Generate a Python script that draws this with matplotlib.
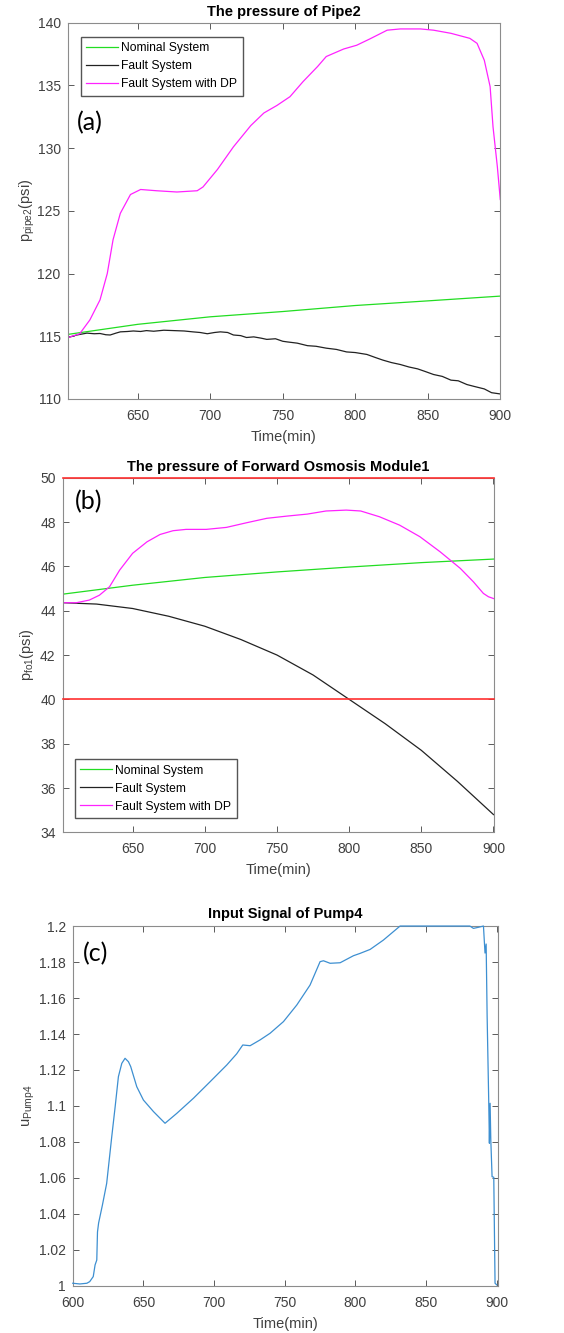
import matplotlib
matplotlib.use('Agg')
from matplotlib import pyplot as plt
from matplotlib.ticker import FuncFormatter

plt.rcParams['font.family'] = ['Liberation Sans', 'DejaVu Sans']
plt.rcParams['mathtext.fontset'] = 'custom'
plt.rcParams['mathtext.rm'] = 'Liberation Sans'

# ---- (a) pressure of Pipe2 ----
t_nom_a = [602, 650, 700, 750, 800, 850, 900]
p_nom_a = [115.15, 115.95, 116.55, 116.97, 117.45, 117.82, 118.2]

t_fault_a = [602, 608, 615, 620, 624, 628, 631, 635, 638, 643, 647, 652, 656, 661, 668, 675,
             682, 688, 693, 698, 703, 707, 712, 716, 721, 725, 730, 735, 739, 745, 750, 753,
             760, 767, 773, 780, 787, 794, 800, 808, 814, 819, 825, 831, 837, 843, 848, 854,
             860, 866, 871, 877, 882, 889, 894, 900]
p_fault_a = [114.9, 115.1, 115.25, 115.2, 115.22, 115.12, 115.1, 115.25, 115.35, 115.38, 115.42,
             115.38, 115.45, 115.4, 115.48, 115.45, 115.42, 115.35, 115.3, 115.2, 115.3, 115.35,
             115.3, 115.1, 115.05, 114.9, 114.95, 114.85, 114.75, 114.8, 114.6, 114.55, 114.45,
             114.25, 114.2, 114.05, 113.95, 113.75, 113.7, 113.55, 113.3, 113.1, 112.9, 112.75,
             112.55, 112.4, 112.2, 111.95, 111.8, 111.5, 111.45, 111.15, 111.0, 110.8, 110.5, 110.4]

t_dp_a = [602, 610, 617, 624, 629, 633, 638, 645, 652, 663, 677, 691, 695, 705, 716, 728, 737,
          746, 755, 764, 774, 780, 792, 801, 810, 822, 831, 845, 854, 866, 879, 884, 889, 893,
          895, 898, 900]
p_dp_a = [114.9, 115.2, 116.3, 117.9, 120.0, 122.7, 124.8, 126.3, 126.7, 126.6, 126.5, 126.6,
          126.9, 128.3, 130.1, 131.8, 132.8, 133.4, 134.1, 135.3, 136.5, 137.3, 137.9, 138.2,
          138.7, 139.4, 139.5, 139.5, 139.4, 139.15, 138.75, 138.35, 137.0, 134.9, 131.7, 128.5,
          125.9]

# ---- (b) pressure of Forward Osmosis Module1 ----
t_nom_b = [602, 650, 700, 750, 800, 850, 900]
p_nom_b = [44.75, 45.15, 45.5, 45.75, 45.97, 46.17, 46.33]

t_fault_b = [602, 625, 650, 675, 700, 725, 750, 775, 800, 825, 850, 875, 900]
p_fault_b = [44.36, 44.3, 44.1, 43.75, 43.3, 42.7, 42.0, 41.1, 40.0, 38.9, 37.7, 36.3, 34.8]

t_dp_b = [602, 611, 620, 627, 634, 641, 650, 660, 669, 678, 687, 701, 715, 729, 743, 757, 771,
          784, 798, 808, 821, 835, 849, 863, 877, 886, 893, 896.5, 900]
p_dp_b = [44.36, 44.36, 44.48, 44.7, 45.08, 45.83, 46.59, 47.11, 47.44, 47.61, 47.67, 47.67,
          47.76, 47.97, 48.17, 48.27, 48.36, 48.5, 48.54, 48.5, 48.24, 47.86, 47.34, 46.66,
          45.91, 45.31, 44.78, 44.63, 44.55]

limits_b = [40, 50]

# ---- (c) input signal of Pump4 ----
t_u = [600, 605, 610, 612, 614.5, 615.8, 617, 617.5, 618.3, 621, 624, 627.6, 630, 632.3, 634.7,
       637, 639.4, 641, 645.3, 650, 657.1, 665.3, 673.6, 685.4, 697.2, 709, 716, 720.3, 725.5,
       732.5, 739.6, 749.1, 758.5, 767.9, 775, 777.4, 782.1, 789.2, 798.6, 803.3, 810.4, 819.8,
       826.9, 831.6, 860, 881, 883.5, 887, 890.6, 891.7, 892.5, 893.2, 894.4, 894.8, 895.3,
       895.8, 896.7, 897.9, 898.8, 900]
u_pump = [1.0015, 1.0011, 1.0015, 1.0024, 1.0052, 1.0117, 1.0144, 1.03, 1.035, 1.045, 1.057,
          1.083, 1.0996, 1.1163, 1.1237, 1.1265, 1.1246, 1.1219, 1.1107, 1.1033, 1.0969, 1.0904,
          1.0959, 1.1043, 1.1135, 1.1228, 1.129, 1.1339, 1.1335, 1.1367, 1.1404, 1.1469, 1.1561,
          1.1672, 1.1802, 1.1807, 1.1793, 1.1796, 1.1835, 1.1848, 1.187, 1.1922, 1.1969, 1.2, 1.2,
          1.2, 1.1987, 1.1993, 1.2, 1.185, 1.19, 1.15, 1.0996, 1.0793, 1.1015, 1.0811, 1.0607,
          1.0604, 1.0015, 1.0006]

fig = plt.figure(figsize=(5.64, 13.33), dpi=100)

def style_axes(ax):
    for s in ax.spines.values():
        s.set_color('#8c8c8c')
        s.set_linewidth(0.8)
    ax.tick_params(direction='in', top=True, right=True, colors='#404040',
                   labelsize=10, length=4, width=0.6)
    ax.tick_params(axis='x', pad=7)
    ax.tick_params(axis='y', pad=5)
    ax.xaxis.label.set_color('#404040')
    ax.yaxis.label.set_color('#404040')

leg_kw = dict(fontsize=8.7, fancybox=False, edgecolor='#555555', framealpha=1,
              handlelength=2.6, handletextpad=0.3, borderpad=0.45, labelspacing=0.5,
              borderaxespad=0.0)

# (a)
ax1 = fig.add_axes([0.120, 0.7007, 0.767, 0.2823])
ax1.plot(t_nom_a, p_nom_a, color='#22dd22', lw=0.9, label='Nominal System')
ax1.plot(t_fault_a, p_fault_a, color='#222222', lw=0.9, label='Fault System')
ax1.plot(t_dp_a, p_dp_a, color='#ff22ff', lw=0.9, label='Fault System with DP')
ax1.set_xlim(601.7, 900)
ax1.set_ylim(110, 140)
ax1.set_xticks([650, 700, 750, 800, 850, 900])
ax1.set_yticks([110, 115, 120, 125, 130, 135, 140])
ax1.set_title('The pressure of Pipe2', fontsize=10.5, fontweight='bold', pad=5)
ax1.set_xlabel('Time(min)', fontsize=10.5, labelpad=5)
ax1.set_ylabel(r'p$_{\mathregular{pipe2}}$(psi)', fontsize=10.5, labelpad=0)
ax1.text(0.022, 0.735, '(a)', transform=ax1.transAxes, fontsize=18, family='Lato', va='center')
ax1.legend(loc='upper left', bbox_to_anchor=(0.03, 0.963), **leg_kw)
style_axes(ax1)

# (b)
ax2 = fig.add_axes([0.111, 0.3756, 0.764, 0.266])
for lim in limits_b:
    ax2.axhline(lim, color='#ff3030', lw=1.2, zorder=3, clip_on=False)
ax2.plot(t_nom_b, p_nom_b, color='#22dd22', lw=0.9, label='Nominal System')
ax2.plot(t_fault_b, p_fault_b, color='#222222', lw=0.9, label='Fault System')
ax2.plot(t_dp_b, p_dp_b, color='#ff22ff', lw=0.9, label='Fault System with DP')
ax2.set_xlim(601.5, 900)
ax2.set_ylim(34, 50)
ax2.set_xticks([650, 700, 750, 800, 850, 900])
ax2.set_yticks(range(34, 51, 2))
ax2.set_title('The pressure of Forward Osmosis Module1', fontsize=10.5, fontweight='bold', pad=5)
ax2.set_xlabel('Time(min)', fontsize=10.5, labelpad=5)
ax2.set_ylabel(r'p$_{\mathregular{fo1}}$(psi)', fontsize=10.5, labelpad=3)
ax2.text(0.029, 0.932, '(b)', transform=ax2.transAxes, fontsize=18, family='Lato', va='center')
h, l = ax2.get_legend_handles_labels()
ax2.legend(h[-3:], l[-3:], loc='lower left', bbox_to_anchor=(0.028, 0.04), **leg_kw)
style_axes(ax2)

# (c)
ax3 = fig.add_axes([0.129, 0.0353, 0.7535, 0.270])
ax3.plot(t_u, u_pump, color='#3d8fd1', lw=0.9, zorder=3, clip_on=False)
ax3.set_xlim(600, 900.7)
ax3.set_ylim(1, 1.2)
ax3.set_xticks([600, 650, 700, 750, 800, 850, 900])
ax3.set_yticks([1 + 0.02 * i for i in range(11)])
ax3.yaxis.set_major_formatter(FuncFormatter(lambda v, p: '%g' % round(v, 2)))
ax3.set_title('Input Signal of Pump4', fontsize=10.5, fontweight='bold', pad=6)
ax3.set_xlabel('Time(min)', fontsize=10.5, labelpad=5)
ax3.set_ylabel(r'u$_{\mathregular{Pump4}}$', fontsize=10.5, labelpad=1)
ax3.text(0.024, 0.922, '(c)', transform=ax3.transAxes, fontsize=18, family='Lato', va='center')
style_axes(ax3)

fig.savefig('out.png', dpi=100)
